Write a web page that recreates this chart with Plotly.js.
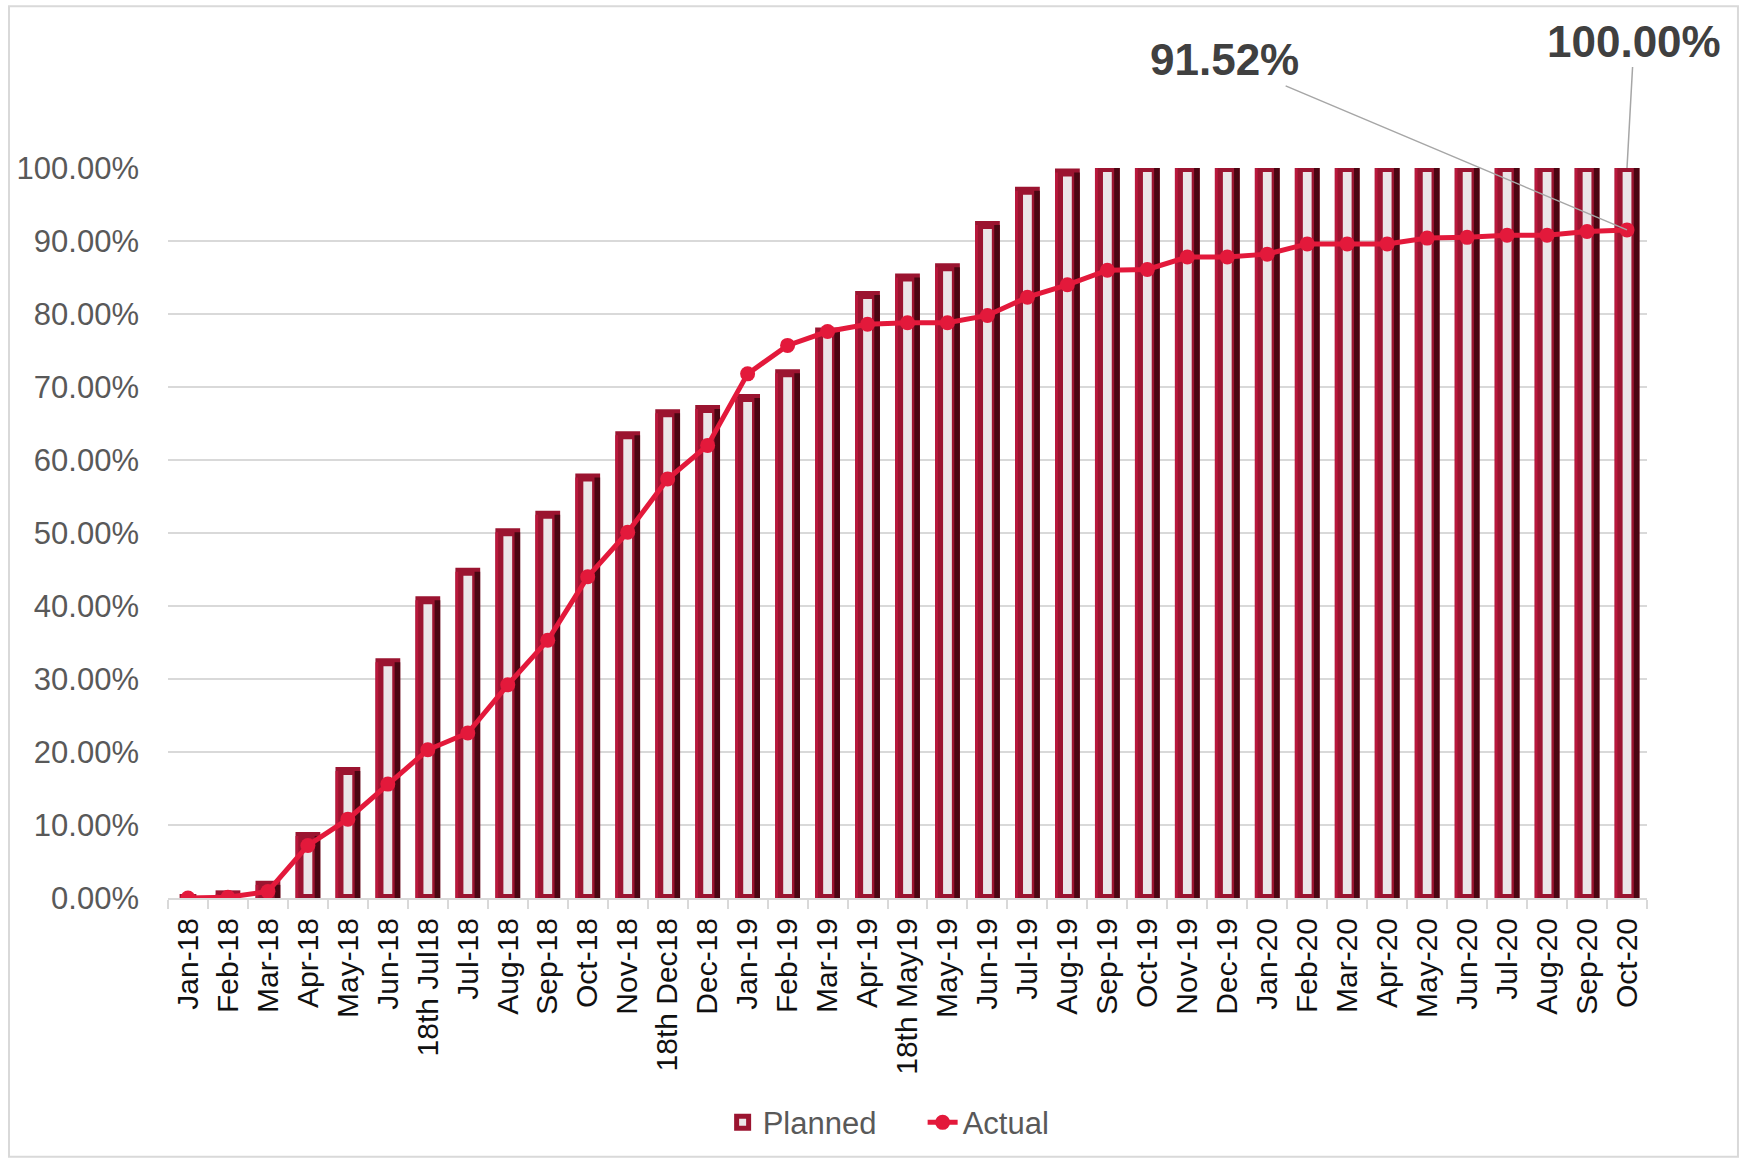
<!DOCTYPE html>
<html>
<head>
<meta charset="utf-8">
<script src="https://cdn.plot.ly/plotly-3.0.1.min.js"></script>
<style>html,body{margin:0;padding:0;background:#fff;}#chart{width:1747px;height:1160px;}</style>
</head>
<body>
<div id="chart"></div>
<script>
const categories = ["Jan-18","Feb-18","Mar-18","Apr-18","May-18","Jun-18","18th Jul18","Jul-18","Aug-18","Sep-18","Oct-18","Nov-18","18th Dec18","Dec-18","Jan-19","Feb-19","Mar-19","Apr-19","18th May19","May-19","Jun-19","Jul-19","Aug-19","Sep-19","Oct-19","Nov-19","Dec-19","Jan-20","Feb-20","Mar-20","Apr-20","May-20","Jun-20","Jul-20","Aug-20","Sep-20","Oct-20"];
const planned = [0,0.005,0.018,0.085,0.174,0.323,0.408,0.447,0.501,0.525,0.576,0.634,0.664,0.670,0.685,0.719,0.776,0.826,0.850,0.864,0.922,0.969,0.994,1,1,1,1,1,1,1,1,1,1,1,1,1,1];
const actual = [0,0.001,0.009,0.072,0.108,0.156,0.203,0.226,0.292,0.353,0.440,0.501,0.574,0.620,0.718,0.757,0.776,0.786,0.788,0.788,0.798,0.823,0.840,0.860,0.861,0.878,0.878,0.882,0.896,0.896,0.896,0.904,0.905,0.908,0.908,0.913,0.9152];
const labelActualLast = "91.52%";
const labelPlannedLast = "100.00%";

const baseFont = "Liberation Sans, Arial, sans-serif";
const narrowBold = "Liberation Sans Narrow, Arial Narrow, Liberation Sans, Arial, sans-serif";

const traces = [
  {type:'bar', name:'Planned', x:categories, y:planned, width:0.42,
   marker:{color:'#ebe6e8', line:{color:'#9b1430', width:8}}, hoverinfo:'skip'},
  {type:'bar', name:'Planned-dark', x:categories, y:planned, width:0.14, offset:0.17,
   marker:{color:'#4a0612', line:{width:0}}, showlegend:false, hoverinfo:'skip'},
  {type:'bar', name:'Planned-left', x:categories, y:planned, width:0.07, offset:-0.31,
   marker:{color:'#b8183c', line:{width:0}}, showlegend:false, hoverinfo:'skip'},
  {type:'scatter', mode:'lines+markers', name:'Actual', x:categories, y:actual,
   line:{color:'#e3193b', width:5}, marker:{color:'#e3193b', size:15}}
];

const layout = {
  width:1747, height:1160,
  margin:{l:168, r:100, t:168, b:261},
  paper_bgcolor:'#ffffff', plot_bgcolor:'#ffffff',
  barmode:'overlay',
  showlegend:true,
  legend:{orientation:'h', x:0.375, xanchor:'left', y:-0.306, yanchor:'middle', entrywidth:155,
          font:{family:baseFont, size:31, color:'#595959'}, traceorder:'normal'},
  xaxis:{type:'category', range:[-0.5, categories.length-0.5], autorange:false,
         tickangle:-90, ticks:'outside', tickson:'boundaries', ticklen:9,
         tickcolor:'#d9d9d9', tickwidth:2, showline:true, linecolor:'#d9d9d9', linewidth:2,
         showgrid:false, tickfont:{family:baseFont, size:30, color:'#111111'},
         ticklabelstandoff:6, fixedrange:true},
  yaxis:{range:[0,1], autorange:false, tickformat:'.2%', dtick:0.1, showgrid:true,
         gridcolor:'#d9d9d9', gridwidth:2, zeroline:false, showline:false, ticks:'',
         tickfont:{family:baseFont, size:31, color:'#595959'}, ticklabelstandoff:28},
  annotations:[
    {x:categories[categories.length-1], y:actual[actual.length-1], xref:'x', yref:'y',
     text:'<b>'+labelActualLast+'</b>', showarrow:true, arrowhead:0, arrowwidth:1.5,
     arrowcolor:'#a6a6a6', ax:-403, ay:-170, standoff:0,
     font:{family:narrowBold, size:44, color:'#404040'}},
    {x:categories[categories.length-1], y:planned[planned.length-1], xref:'x', yref:'y',
     text:'<b>'+labelPlannedLast+'</b>', showarrow:true, arrowhead:0, arrowwidth:1.5,
     arrowcolor:'#a6a6a6', ax:7, ay:-127, standoff:0,
     font:{family:narrowBold, size:44, color:'#404040'}}
  ],
  shapes:[
    {type:'rect', xref:'paper', yref:'paper', x0:-0.1075, x1:1.0615, y0:-0.3543, y1:1.2216,
     line:{color:'#d9d9d9', width:2}, fillcolor:'rgba(0,0,0,0)', layer:'below'}
  ]
};

Plotly.newPlot('chart', traces, layout, {displayModeBar:false, staticPlot:true});
</script>
</body>
</html>
